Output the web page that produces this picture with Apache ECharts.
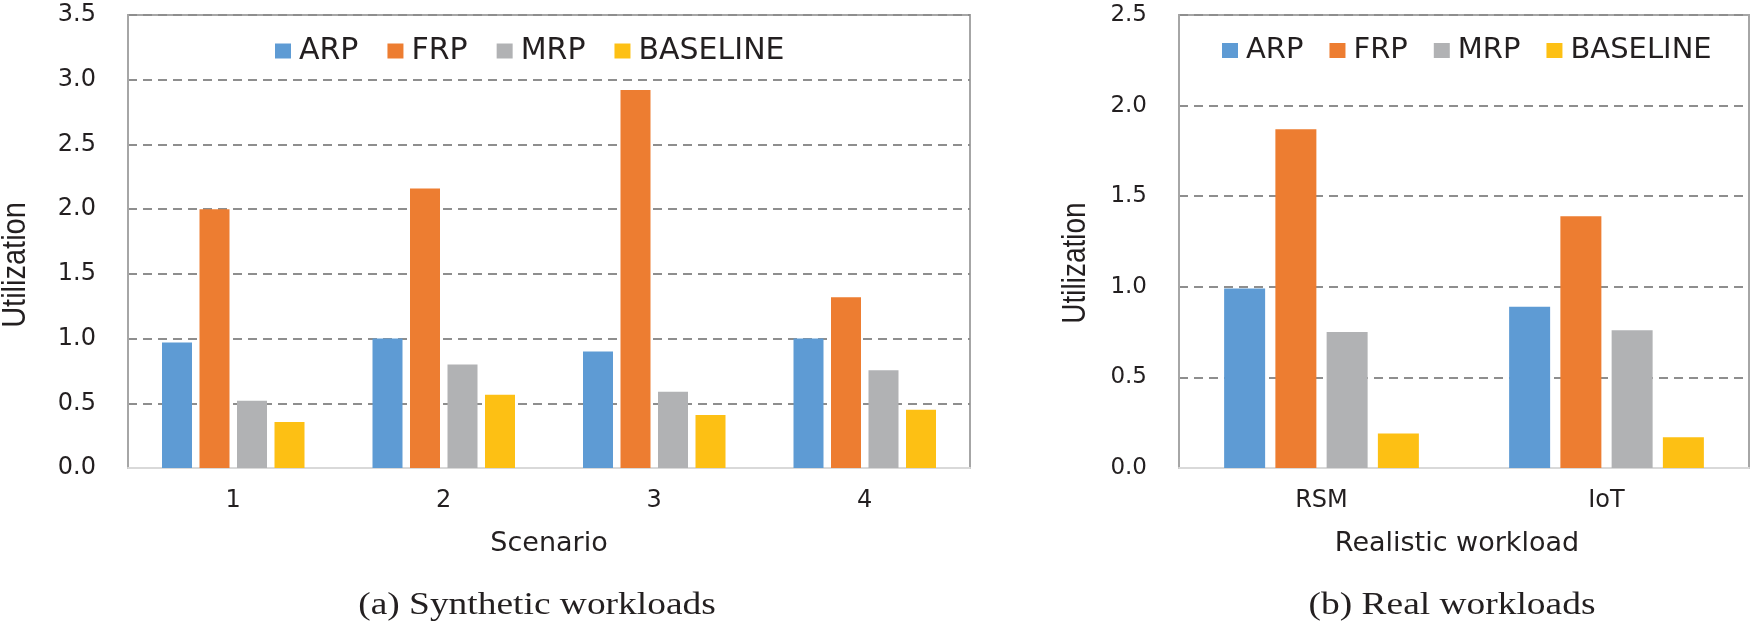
<!DOCTYPE html>
<html>
<head>
<meta charset="utf-8">
<script src="https://cdn.jsdelivr.net/npm/echarts@6/dist/echarts.min.js"></script>
<style>
html,body{margin:0;padding:0;background:#fff;}
#chart{width:1751px;height:626px;}
</style>
</head>
<body>
<div id="chart"></div>
<script>
// ---- data ----
const seriesNames = ['ARP', 'FRP', 'MRP', 'BASELINE'];
const scenarios = ['1', '2', '3', '4'];
const synARP = [0.97, 1.00, 0.90, 1.00];
const synFRP = [2.00, 2.16, 2.92, 1.32];
const synMRP = [0.52, 0.80, 0.59, 0.755];
const synBASE = [0.355, 0.565, 0.41, 0.45];
const workloads = ['RSM', 'IoT'];
const realARP = [0.99, 0.89];
const realFRP = [1.87, 1.39];
const realMRP = [0.75, 0.76];
const realBASE = [0.19, 0.17];
const leftTicksMax = 3.5;
const rightTicksMax = 2.5;
const tickStep = 0.5;
const captionA = '(a) Synthetic workloads';
const captionB = '(b) Real workloads';
const yName = 'Utilization';
const xNameA = 'Scenario';
const xNameB = 'Realistic workload';

// ---- styles ----
const colors = ['#5E9BD4', '#ED7D31', '#B1B2B4', '#FDC014'];
const txt = '#231f20';
const sans = 'DejaVu Sans';

function yAxisCfg(gi, max, fs) {
  return {
    type: 'value', gridIndex: gi, min: 0, max: max, interval: tickStep,
    axisLine: {show: true, lineStyle: {color: '#a6a6a6', width: 2}},
    axisTick: {show: false},
    axisLabel: {color: txt, fontSize: fs, fontFamily: sans, margin: 32,
      formatter: v => v.toFixed(1)},
    splitLine: {show: true, lineStyle: {color: '#8e8e8e', width: 2, type: [9, 6]}}
  };
}
function xAxisCfg(gi, cats, name, extraPad) {
  return {
    type: 'category', gridIndex: gi, data: cats,
    axisLine: {show: true, lineStyle: {color: '#d9d9d9', width: 2}},
    axisTick: {show: false},
    axisLabel: {color: txt, fontSize: 24, fontFamily: sans, margin: 21},
    name: name, nameLocation: 'middle', nameGap: 62,
    nameTextStyle: {color: txt, fontSize: 27, fontFamily: sans, padding: extraPad}
  };
}
function bars(gi, arrs, bw) {
  return arrs.map((a, i) => ({
    type: 'bar', name: seriesNames[i], xAxisIndex: gi, yAxisIndex: gi,
    data: a, barWidth: bw, barGap: '25%',
    itemStyle: {color: colors[i]}
  }));
}
function legendCfg(left, fs, gap) {
  return {
    left: left, top: 31, icon: 'rect', itemWidth: 16, itemHeight: 15,
    itemGap: gap, data: seriesNames,
    textStyle: {color: txt, fontSize: fs, fontFamily: sans, padding: [0, 0, 0, 3]}
  };
}

const chart = echarts.init(document.getElementById('chart'), null, {renderer: 'canvas'});
chart.setOption({
  animation: false,
  backgroundColor: '#fff',
  color: colors,
  legend: [legendCfg(270, 30, 29), legendCfg(1217, 29, 26)],
  grid: [
    {left: 128, top: 15, width: 842, height: 453, show: true, borderColor: '#a6a6a6', borderWidth: 2, backgroundColor: 'transparent'},
    {left: 1179, top: 15, width: 570, height: 453, show: true, borderColor: '#a6a6a6', borderWidth: 2, backgroundColor: 'transparent'}
  ],
  xAxis: [xAxisCfg(0, scenarios, xNameA, [0, 0, 0, 0]), xAxisCfg(1, workloads, xNameB, [0, 14, 0, 0])],
  yAxis: [yAxisCfg(0, leftTicksMax, 24), yAxisCfg(1, rightTicksMax, 23)],
  series: bars(0, [synARP, synFRP, synMRP, synBASE], 30)
    .concat(bars(1, [realARP, realFRP, realMRP, realBASE], 41)),
  graphic: [
    {type: 'text', x: 16, y: 265, rotation: Math.PI / 2, scaleY: 1.16,
      style: {text: yName, font: '29px "Liberation Sans"', fill: txt, align: 'center', verticalAlign: 'middle'}},
    {type: 'text', x: 1076, y: 263, rotation: Math.PI / 2, scaleY: 1.16,
      style: {text: yName, font: '28px "Liberation Sans"', fill: txt, align: 'center', verticalAlign: 'middle'}},
    {type: 'text', x: 537, y: 606, scaleX: 1.17,
      style: {text: captionA, font: '32px "Liberation Serif"', fill: txt, align: 'center', verticalAlign: 'middle'}},
    {type: 'text', x: 1452, y: 606, scaleX: 1.17,
      style: {text: captionB, font: '32px "Liberation Serif"', fill: txt, align: 'center', verticalAlign: 'middle'}}
  ]
});
</script>
</body>
</html>
